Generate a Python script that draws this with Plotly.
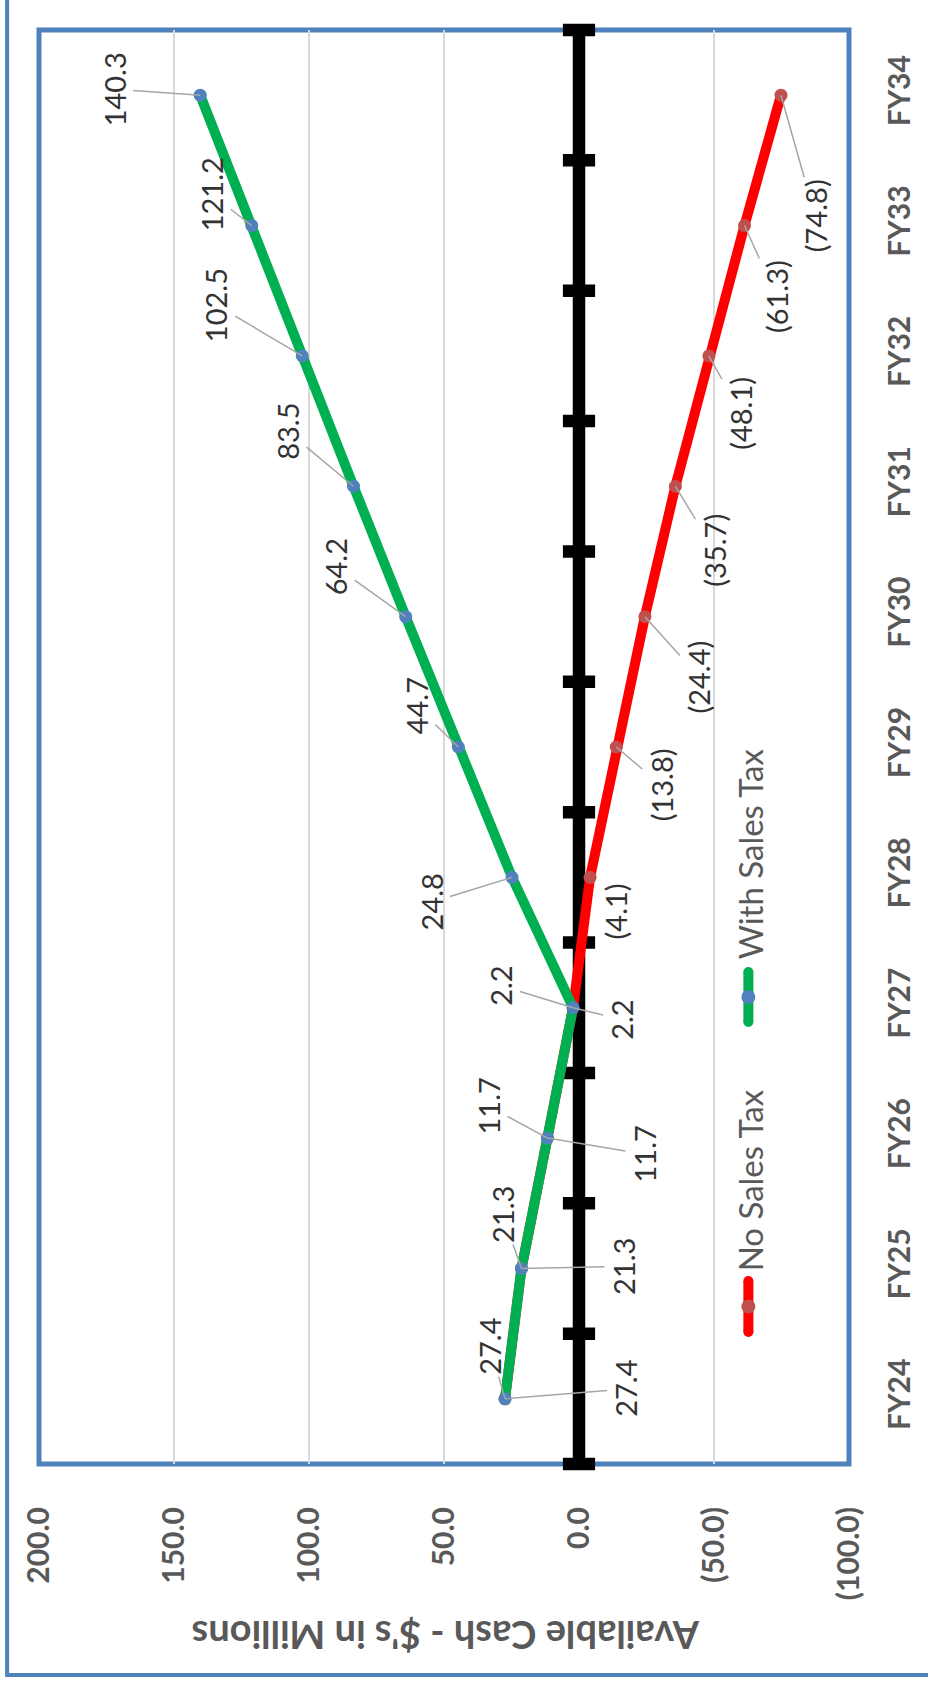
import plotly.graph_objects as go

# Fiscal years and available cash (millions of dollars) for both scenarios
categories = ["FY24", "FY25", "FY26", "FY27", "FY28", "FY29", "FY30", "FY31", "FY32", "FY33", "FY34"]
with_sales_tax = [27.4, 21.3, 11.7, 2.2, 24.8, 44.7, 64.2, 83.5, 102.5, 121.2, 140.3]
no_sales_tax = [27.4, 21.3, 11.7, 2.2, -4.1, -13.8, -24.4, -35.7, -48.1, -61.3, -74.8]
value_ticks = [200, 150, 100, 50, 0, -50, -100]
value_tick_text = ["200.0", "150.0", "100.0", "50.0", "0.0", "(50.0)", "(100.0)"]
series_names = ["With Sales Tax", "No Sales Tax"]
axis_title = "Available Cash - $'s in Millions"

# Page geometry (pixels)
W, H = 928, 1681
ML, MR, MT, MB = 39, 76, 30, 217
PW, PH = W - ML - MR, H - MT - MB

# Pixel offsets of each data label from its point (dx right, dy down)
with_label_dx = [-15, -19, -59, -72, -81, -42, -70, -66, -86, -40, -86]
with_label_dy = [-52, -54, -32, -22, 25, -41, -50, -55, -51, -31, -6]
no_label_dx = [121, 102, 97, 49, 25, 45, 54, 39, 32, 32, 34]
no_label_dy = [-10, -2, 16, 12, 34, 38, 60, 64, 57, 71, 120]
no_label_leader = [True, True, True, True, False, True, True, True, True, True, True]

GREEN = "#00B050"
RED = "#FF0000"
BLUE_MARK = "#4F81BD"
RED_MARK = "#C0504D"
FRAME = "#4F81BD"
TEXT_GRAY = "#595959"
LABEL_GRAY = "#333333"
LEADER = "#A6A6A6"
FONT = "Lato"


def px_x(px):
    return (px - ML) / PW


def px_y(py):
    return (H - MB - py) / PH


def fmt(v):
    return f"{v:.1f}" if v >= 0 else f"({abs(v):.1f})"


idx = list(range(len(categories)))
bounds = [i - 0.5 for i in range(len(categories) + 1)]

fig = go.Figure()

# Category axis drawn through zero, with tick marks between fiscal years
fig.add_trace(go.Scatter(
    x=[0, 0], y=[bounds[0], bounds[-1]], mode="lines",
    line=dict(color="black", width=12.5), cliponaxis=False,
    hoverinfo="skip", showlegend=False))
fig.add_trace(go.Scatter(
    x=[0] * len(bounds), y=bounds, mode="markers",
    marker=dict(symbol="line-ew", size=23, line=dict(width=12.5, color="black")),
    cliponaxis=False, hoverinfo="skip", showlegend=False))

fig.add_trace(go.Scatter(
    x=no_sales_tax, y=idx, mode="lines+markers", name=series_names[1],
    line=dict(color=RED, width=10), marker=dict(color=RED_MARK, size=13),
    showlegend=False))
fig.add_trace(go.Scatter(
    x=with_sales_tax, y=idx, mode="lines+markers", name=series_names[0],
    line=dict(color=GREEN, width=10), marker=dict(color=BLUE_MARK, size=13),
    showlegend=False))

annotations = []
label_font = dict(family=FONT, size=29, color=LABEL_GRAY)
for i, v in enumerate(with_sales_tax):
    annotations.append(dict(
        x=v, y=i, xref="x", yref="y", text=fmt(v), textangle=-90,
        showarrow=True, arrowhead=0, arrowwidth=1.5, arrowcolor=LEADER,
        ax=with_label_dx[i], ay=with_label_dy[i], standoff=0,
        font=label_font))
for i, v in enumerate(no_sales_tax):
    annotations.append(dict(
        x=v, y=i, xref="x", yref="y", text=fmt(v), textangle=-90,
        showarrow=True, arrowhead=0, arrowwidth=1.5,
        arrowcolor=LEADER if no_label_leader[i] else "rgba(0,0,0,0)",
        ax=no_label_dx[i], ay=no_label_dy[i], standoff=0,
        font=label_font))

# Value-axis title, upside down along the bottom
annotations.append(dict(
    x=px_x(447), y=px_y(1636), xref="paper", yref="paper",
    xanchor="center", yanchor="middle",
    text=f"<b>{axis_title}</b>", textangle=180, showarrow=False,
    font=dict(family=FONT, size=38, color=TEXT_GRAY)))

# Legend, drawn vertically inside the plot area
legend_font = dict(family=FONT, size=33, color=TEXT_GRAY)
legend_items = [
    (series_names[0], GREEN, BLUE_MARK, 972, 1022, 854),
    (series_names[1], RED, RED_MARK, 1281, 1332, 1180),
]
shapes = []
lx = 751
for name, lc, mc, y0, y1, ty in legend_items:
    shapes.append(dict(type="line", xref="paper", yref="paper",
                       x0=px_x(lx), x1=px_x(lx), y0=px_y(y0), y1=px_y(y1),
                       line=dict(color=lc, width=10), layer="above"))
    for yy in (y0, y1):
        shapes.append(dict(type="circle", xref="paper", yref="paper",
                           x0=px_x(lx - 5), x1=px_x(lx + 5),
                           y0=px_y(yy - 5), y1=px_y(yy + 5),
                           fillcolor=lc, line=dict(width=0), layer="above"))
    ym = (y0 + y1) / 2
    shapes.append(dict(type="circle", xref="paper", yref="paper",
                       x0=px_x(lx - 7), x1=px_x(lx + 7),
                       y0=px_y(ym - 7), y1=px_y(ym + 7),
                       fillcolor=mc, line=dict(width=0), layer="above"))
    annotations.append(dict(
        x=px_x(lx + 2), y=px_y(ty), xref="paper", yref="paper",
        xanchor="center", yanchor="middle", text=name,
        textangle=-90, showarrow=False, font=legend_font))

# Plot-area border and outer chart frame
shapes.append(dict(type="rect", xref="paper", yref="paper", x0=0, x1=1, y0=0, y1=1,
                   line=dict(color=FRAME, width=5), layer="between"))
shapes.append(dict(type="rect", xref="paper", yref="paper",
                   x0=px_x(7), x1=px_x(W + 20), y0=px_y(1675), y1=px_y(-20),
                   line=dict(color=FRAME, width=4), layer="below"))

fig.update_layout(
    width=W, height=H,
    margin=dict(l=ML, r=MR, t=MT, b=MB),
    paper_bgcolor="white", plot_bgcolor="white",
    showlegend=False,
    annotations=annotations, shapes=shapes,
    xaxis=dict(
        range=[value_ticks[0], value_ticks[-1]],
        tickmode="array", tickvals=value_ticks, ticktext=value_tick_text,
        tickangle=-90, ticks="", ticklabelstandoff=36,
        tickfont=dict(family=FONT, size=30, color=TEXT_GRAY, weight="bold"),
        showgrid=True, gridcolor="#D9D9D9", gridwidth=2,
        zeroline=False, showline=False, fixedrange=True),
    yaxis=dict(
        range=[bounds[0], bounds[-1]], side="right",
        tickmode="array", tickvals=idx, ticktext=categories,
        tickangle=-90, ticks="", ticklabelstandoff=30,
        tickfont=dict(family=FONT, size=30, color=TEXT_GRAY, weight="bold"),
        showgrid=False, zeroline=False, showline=False, fixedrange=True),
)

fig.write_html("out.html")
